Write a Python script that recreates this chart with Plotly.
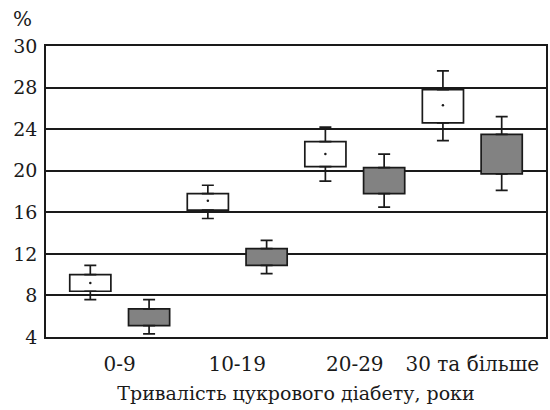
import plotly.graph_objects as go

categories = ["0-9", "10-19", "20-29", "30 та більше"]

# White boxes (first series)
a_lower = [7.6, 15.4, 19.0, 22.9]
a_q1 = [8.4, 16.2, 20.4, 24.6]
a_median = [9.2, 17.1, 21.6, 26.3]
a_q3 = [10.0, 17.8, 22.8, 27.8]
a_upper = [10.9, 18.6, 24.2, 29.6]

# Grey boxes (second series)
b_lower = [4.3, 10.1, 16.5, 18.1]
b_q1 = [5.1, 10.9, 17.8, 19.7]
b_q3 = [6.7, 12.5, 20.3, 23.5]
b_upper = [7.6, 13.3, 21.6, 25.2]

y_tickvals = [4, 8, 12, 16, 20, 24, 28, 32]
y_ticktext = ["4", "8", "12", "16", "20", "24", "28", "30"]

FONT = "DejaVu Serif"
INK = "#1a1a1a"
GREY = "#828282"
BOXW = 0.35
SHIFT = 0.25

fig = go.Figure()


def add_series(offset, lower, q1, q3, upper, fill):
    xs = [i + offset for i in range(len(categories))]
    fig.add_trace(go.Bar(
        x=xs, y=[h - l for h, l in zip(q3, q1)], base=q1, width=BOXW,
        marker=dict(color=fill, line=dict(color=INK, width=1.7)),
        hoverinfo="skip", showlegend=False))
    # upper whiskers
    fig.add_trace(go.Scatter(
        x=xs, y=q3, mode="markers", marker=dict(opacity=0, size=1),
        error_y=dict(type="data", symmetric=False,
                     array=[u - h for u, h in zip(upper, q3)],
                     arrayminus=[0] * len(q3), width=6, thickness=1.7,
                     color=INK),
        hoverinfo="skip", showlegend=False))
    # lower whiskers
    fig.add_trace(go.Scatter(
        x=xs, y=q1, mode="markers", marker=dict(opacity=0, size=1),
        error_y=dict(type="data", symmetric=False,
                     array=[0] * len(q1),
                     arrayminus=[l - lo for l, lo in zip(q1, lower)],
                     width=6, thickness=1.7, color=INK),
        hoverinfo="skip", showlegend=False))


add_series(-SHIFT, a_lower, a_q1, a_q3, a_upper, "white")
add_series(SHIFT, b_lower, b_q1, b_q3, b_upper, GREY)

fig.add_trace(go.Scatter(
    x=[i - SHIFT for i in range(len(categories))], y=a_median,
    mode="markers", marker=dict(color=INK, size=2.5),
    hoverinfo="skip", showlegend=False))

fig.update_layout(
    width=550, height=410,
    margin=dict(l=46, r=2, t=46, b=73),
    paper_bgcolor="white", plot_bgcolor="white",
    font=dict(family=FONT, size=19, color=INK),
    barmode="overlay",
    xaxis=dict(
        range=[-0.627, 3.627], tickmode="array",
        tickvals=list(range(len(categories))), ticktext=categories,
        tickfont=dict(family=FONT, size=20, color=INK),
        showgrid=False, zeroline=False,
        showline=True, mirror=True, linecolor=INK, linewidth=1.7,
        ticks="", ticklabelstandoff=8,
        title=dict(text="Тривалість цукрового діабету, роки",
                   font=dict(family=FONT, size=19, color=INK), standoff=12),
    ),
    yaxis=dict(
        range=[4, 32], tickmode="array",
        tickvals=y_tickvals, ticktext=y_ticktext,
        tickfont=dict(family=FONT, size=19, color=INK),
        showgrid=True, gridcolor=INK, gridwidth=1.7, zeroline=False,
        showline=True, mirror=True, linecolor=INK, linewidth=1.7,
        ticks="", ticklabelstandoff=3,
    ),
    annotations=[dict(text="%", xref="paper", yref="paper",
                      x=0.0, y=1.0, xshift=-12, yshift=27, xanchor="right",
                      yanchor="middle", showarrow=False,
                      font=dict(family=FONT, size=20, color=INK))],
)

fig.write_html("out.html")
